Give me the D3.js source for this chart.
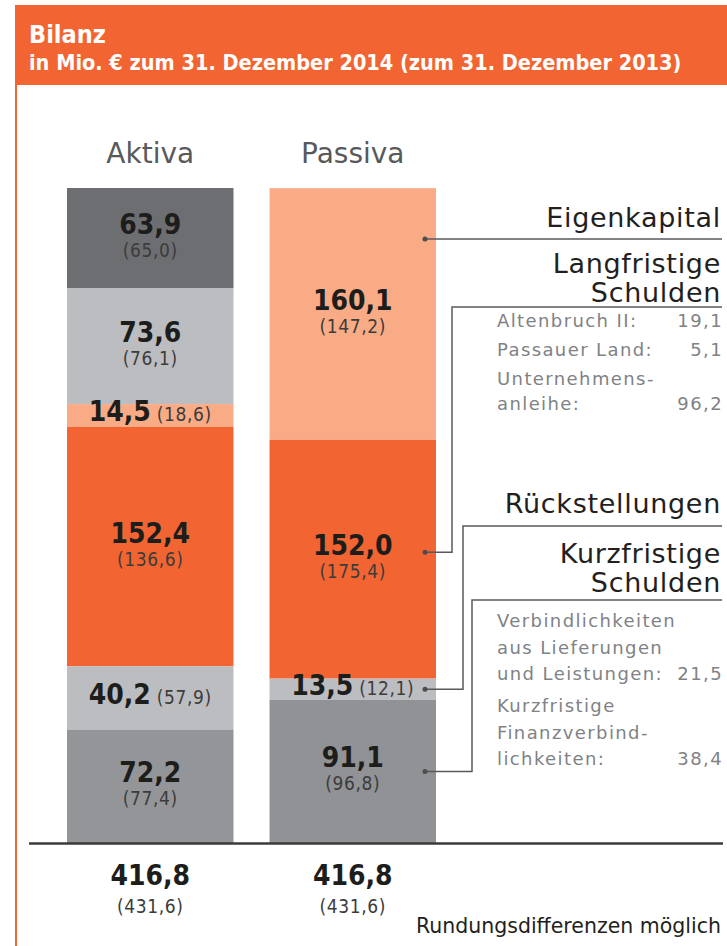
<!DOCTYPE html>
<html>
<head>
<meta charset="utf-8">
<script src="https://cdn.jsdelivr.net/npm/d3@7"></script>
<style>
  body { margin: 0; background: #fff; }
  svg { display: block; font-family: "DejaVu Sans", sans-serif; }
</style>
</head>
<body>
<svg id="chart" width="727" height="946"></svg>
<script>
// Werte (Mio. €) 2014, in Klammern 2013
var columns = ["Aktiva", "Passiva"];
var aktivaValues = [63.9, 73.6, 14.5, 152.4, 40.2, 72.2];
var aktivaPrev = [65.0, 76.1, 18.6, 136.6, 57.9, 77.4];
var passivaValues = [160.1, 152.0, 13.5, 91.1];
var passivaPrev = [147.2, 175.4, 12.1, 96.8];
var totals = [416.8, 416.8];
var totalsPrev = [431.6, 431.6];

// Erläuterungen rechts
var calloutTitles = [["Eigenkapital"], ["Langfristige", "Schulden"], ["Rückstellungen"], ["Kurzfristige", "Schulden"]];
var langDetails = [["Altenbruch II:"], ["Passauer Land:"], ["Unternehmens-", "anleihe:"]];
var langDetailValues = ["19,1", "5,1", "96,2"];
var kurzDetails = [["Verbindlichkeiten", "aus Lieferungen", "und Leistungen:"], ["Kurzfristige", "Finanzverbind-", "lichkeiten:"]];
var kurzDetailValues = ["21,5", "38,4"];

var aktivaColors = ["#6d6e71", "#bcbdc0", "#f9ab86", "#f26532", "#bcbdc0", "#939598"];
var passivaColors = ["#f9ab86", "#f26532", "#bcbdc0", "#909295"];
var inlineA = [false, false, true, false, true, false];
var inlineP = [false, false, true, false];

var orange = "#f26532";
var cond = "DejaVu Sans Condensed";
var fmt = function(v) { return d3.format(".1f")(v).replace(".", ","); };

var svg = d3.select("#chart");

// Kopf
svg.append("rect").attr("x", 15).attr("y", 5).attr("width", 712).attr("height", 80).attr("fill", orange);
svg.append("rect").attr("x", 15).attr("y", 85).attr("width", 2).attr("height", 861).attr("fill", orange);
svg.append("text").attr("x", 29).attr("y", 43)
  .attr("fill", "#fff").attr("font-weight", "bold").attr("font-size", 25).attr("font-family", cond)
  .text("Bilanz");
svg.append("text").attr("x", 29).attr("y", 70)
  .attr("fill", "#fff").attr("font-weight", "bold").attr("font-size", 21.5).attr("font-family", cond)
  .text("in Mio. € zum 31. Dezember 2014 (zum 31. Dezember 2013)");

// Skalen
var x = d3.scaleBand().domain(columns).range([67, 436]).paddingInner(0.178).paddingOuter(0);
var y = d3.scaleLinear().domain([0, 416.8]).range([843, 188]);

function stackUp(values) {
  var top = d3.sum(values), out = [];
  values.forEach(function(v) { out.push({ y0: top, y1: top - v, v: v }); top -= v; });
  return out;
}

function bigText(sel) {
  return sel.attr("font-family", cond).attr("font-weight", "bold").attr("font-size", 28).attr("fill", "#1d1d1b");
}
function smallText(sel) {
  return sel.attr("font-family", cond).attr("font-size", 19).attr("letter-spacing", 0.6).attr("fill", "#3c3c3b");
}

function drawColumn(name, values, prev, colors, inline) {
  var g = svg.append("g");
  var segs = stackUp(values).map(function(d, i) {
    d.prev = prev[i]; d.color = colors[i]; d.inline = inline[i]; return d;
  });
  var cx = x(name) + x.bandwidth() / 2;

  g.selectAll("rect").data(segs).enter().append("rect")
    .attr("x", x(name)).attr("width", x.bandwidth())
    .attr("y", function(d) { return y(d.y0); })
    .attr("height", function(d) { return y(d.y1) - y(d.y0); })
    .attr("fill", function(d) { return d.color; });

  segs.forEach(function(d) {
    var c = (y(d.y0) + y(d.y1)) / 2;
    if (d.inline) {
      var t = g.append("text").attr("x", cx).attr("y", c + 6).attr("text-anchor", "middle");
      bigText(t.append("tspan")).text(fmt(d.v));
      smallText(t.append("tspan")).attr("dx", 6).text("(" + fmt(d.prev) + ")");
    } else {
      bigText(g.append("text").attr("x", cx).attr("y", c - 4).attr("text-anchor", "middle")).text(fmt(d.v));
      smallText(g.append("text").attr("x", cx).attr("y", c + 19).attr("text-anchor", "middle")).text("(" + fmt(d.prev) + ")");
    }
  });

  svg.append("text").attr("x", cx).attr("y", 163).attr("text-anchor", "middle")
    .attr("font-size", 28).attr("fill", "#58595b").text(name);
  return segs;
}

var segA = drawColumn("Aktiva", aktivaValues, aktivaPrev, aktivaColors, inlineA);
var segP = drawColumn("Passiva", passivaValues, passivaPrev, passivaColors, inlineP);

// Basislinie
svg.append("line").attr("x1", 29).attr("x2", 723).attr("y1", 843.5).attr("y2", 843.5)
  .attr("stroke", "#3a3a3a").attr("stroke-width", 2.5);

// Summen
columns.forEach(function(name, i) {
  var cx = x(name) + x.bandwidth() / 2;
  bigText(svg.append("text").attr("x", cx).attr("y", 885).attr("text-anchor", "middle")).text(fmt(totals[i]));
  smallText(svg.append("text").attr("x", cx).attr("y", 913).attr("text-anchor", "middle")).text("(" + fmt(totalsPrev[i]) + ")");
});

svg.append("text").attr("x", 721).attr("y", 933).attr("text-anchor", "end")
  .attr("font-size", 20.5).attr("fill", "#231f20").text("Rundungsdifferenzen möglich");

// Callouts
var rightX = 722;
var dotX = x("Passiva") + x.bandwidth() - 11;
var callouts = [
  { lines: calloutTitles[0], base: 227, lineY: 239, vx: null, dotY: 239 },
  { lines: calloutTitles[1], base: 273, lineY: 307, vx: 452, dotY: (y(segP[1].y0) + y(segP[1].y1)) / 2 - 7 },
  { lines: calloutTitles[2], base: 513, lineY: 526, vx: 463, dotY: (y(segP[2].y0) + y(segP[2].y1)) / 2 },
  { lines: calloutTitles[3], base: 563, lineY: 600, vx: 472, dotY: (y(segP[3].y0) + y(segP[3].y1)) / 2 }
];

callouts.forEach(function(c) {
  c.lines.forEach(function(l, j) {
    svg.append("text").attr("x", rightX - 1).attr("y", c.base + j * 29).attr("text-anchor", "end")
      .attr("font-size", 27).attr("letter-spacing", 0.7).attr("fill", "#231f20").text(l);
  });
  var pts = c.vx === null
    ? [[dotX, c.dotY], [rightX, c.lineY]]
    : [[dotX, c.dotY], [c.vx, c.dotY], [c.vx, c.lineY], [rightX, c.lineY]];
  svg.append("path").attr("d", d3.line()(pts)).attr("fill", "none")
    .attr("stroke", "#58595b").attr("stroke-width", 1.5);
  svg.append("circle").attr("cx", dotX).attr("cy", c.dotY).attr("r", 2.5).attr("fill", "#4d4d4d");
});

function drawDetails(items, values, startY, lineH, gap) {
  var yy = startY;
  items.forEach(function(lines, i) {
    lines.forEach(function(l, j) {
      svg.append("text").attr("x", 497).attr("y", yy).attr("font-size", 18)
        .attr("fill", "#808285").attr("letter-spacing", 1.4).text(l);
      if (j === lines.length - 1) {
        svg.append("text").attr("x", rightX + 1).attr("y", yy).attr("text-anchor", "end")
          .attr("font-size", 18).attr("fill", "#808285").attr("letter-spacing", 1.4).text(values[i]);
      }
      yy += lineH;
    });
    yy += gap;
  });
}
drawDetails(langDetails, langDetailValues, 327, 25, 4);
drawDetails(kurzDetails, kurzDetailValues, 627, 26.5, 5.5);
</script>
</body>
</html>
